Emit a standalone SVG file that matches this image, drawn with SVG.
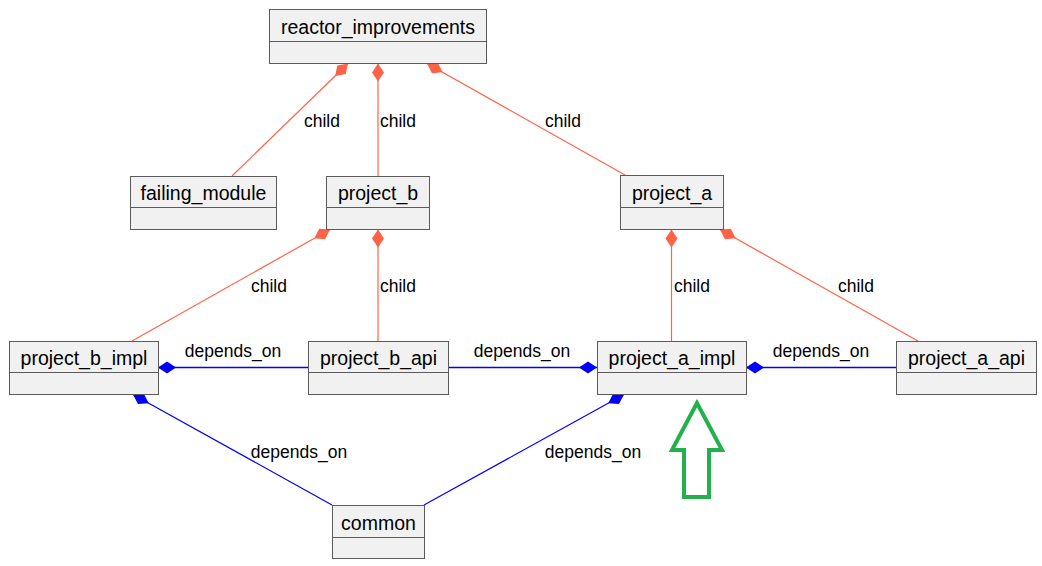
<svg xmlns="http://www.w3.org/2000/svg" width="1042" height="566" viewBox="0 0 1042 566">
<defs>
<style>
.box{fill:#F1F1F1;stroke:#5B5B5B;stroke-width:1}
.sep{stroke:#5B5B5B;stroke-width:1}
.name{font-family:"Liberation Sans",Arial,sans-serif;font-size:19.5px;fill:#000;text-anchor:middle}
.lbl{font-family:"Liberation Sans",Arial,sans-serif;font-size:17.5px;fill:#000;text-anchor:middle}
.child{stroke:#FF6347;stroke-width:1.2;fill:none;marker-start:url(#dOr)}
.dep{stroke:#0000FF;stroke-width:1.2;fill:none;marker-start:url(#dBl)}
.deph{stroke:#0000FF;stroke-width:1.6;fill:none;marker-start:url(#dBl)}
</style>
<marker id="dOr" markerUnits="userSpaceOnUse" markerWidth="22" markerHeight="14" viewBox="-1 -7 22 14" refX="0" refY="0" orient="auto">
<polygon points="0,0 9,-6 18,0 9,6" fill="#FF6347"/>
</marker>
<marker id="dBl" markerUnits="userSpaceOnUse" markerWidth="22" markerHeight="14" viewBox="-1 -7 22 14" refX="0" refY="0" orient="auto">
<polygon points="0,0 9,-6 18,0 9,6" fill="#0000FF"/>
</marker>
</defs>
<rect width="1042" height="566" fill="#FFFFFF"/>
<g id="connectors">
<line class="child" x1="348" y1="63.5" x2="232" y2="176"/>
<line class="child" x1="378" y1="63.5" x2="378" y2="176"/>
<line class="child" x1="427" y1="63.5" x2="625" y2="175"/>
<line class="child" x1="330" y1="229.5" x2="132" y2="341"/>
<line class="child" x1="378" y1="229.5" x2="378" y2="341"/>
<line class="child" x1="671.5" y1="229.5" x2="671.5" y2="341"/>
<line class="child" x1="720" y1="229.5" x2="918" y2="341"/>
<line class="deph" x1="158" y1="367.5" x2="308" y2="367.5"/>
<line class="deph" x1="597" y1="367.5" x2="448" y2="367.5"/>
<line class="deph" x1="746" y1="367.5" x2="896" y2="367.5"/>
<line class="dep" x1="133" y1="394.5" x2="332" y2="505"/>
<line class="dep" x1="624" y1="394.5" x2="424" y2="505"/>
<text class="lbl" x="322" y="127">child</text>
<text class="lbl" x="398" y="127">child</text>
<text class="lbl" x="563" y="127">child</text>
<text class="lbl" x="269" y="292">child</text>
<text class="lbl" x="398" y="292">child</text>
<text class="lbl" x="692" y="292">child</text>
<text class="lbl" x="856" y="292">child</text>
<text class="lbl" x="233" y="357">depends_on</text>
<text class="lbl" x="522" y="357">depends_on</text>
<text class="lbl" x="821" y="357">depends_on</text>
<text class="lbl" x="299" y="458">depends_on</text>
<text class="lbl" x="593" y="458">depends_on</text>
</g>
<g id="reactor_improvements">
<rect class="box" x="269.5" y="9.5" width="217" height="54"/>
<line class="sep" x1="269.5" y1="41.5" x2="486.5" y2="41.5"/>
<text class="name" x="378" y="34">reactor_improvements</text>
</g>
<g id="failing_module">
<rect class="box" x="130.5" y="176.5" width="146" height="53"/>
<line class="sep" x1="130.5" y1="207.5" x2="276.5" y2="207.5"/>
<text class="name" x="203.5" y="199.5">failing_module</text>
</g>
<g id="project_b">
<rect class="box" x="326.5" y="176.5" width="103" height="53"/>
<line class="sep" x1="326.5" y1="207.5" x2="429.5" y2="207.5"/>
<text class="name" x="378" y="199.5">project_b</text>
</g>
<g id="project_a">
<rect class="box" x="620.5" y="175.5" width="103" height="54"/>
<line class="sep" x1="620.5" y1="207.5" x2="723.5" y2="207.5"/>
<text class="name" x="672" y="199.5">project_a</text>
</g>
<g id="project_b_impl">
<rect class="box" x="9.5" y="341.5" width="149" height="53"/>
<line class="sep" x1="9.5" y1="372.5" x2="158.5" y2="372.5"/>
<text class="name" x="84" y="364.5">project_b_impl</text>
</g>
<g id="project_b_api">
<rect class="box" x="308.5" y="341.5" width="140" height="53"/>
<line class="sep" x1="308.5" y1="372.5" x2="448.5" y2="372.5"/>
<text class="name" x="378.5" y="364.5">project_b_api</text>
</g>
<g id="project_a_impl">
<rect class="box" x="597.5" y="341.5" width="149" height="53"/>
<line class="sep" x1="597.5" y1="372.5" x2="746.5" y2="372.5"/>
<text class="name" x="672" y="364.5">project_a_impl</text>
</g>
<g id="project_a_api">
<rect class="box" x="896.5" y="341.5" width="140" height="53"/>
<line class="sep" x1="896.5" y1="372.5" x2="1036.5" y2="372.5"/>
<text class="name" x="966.5" y="364.5">project_a_api</text>
</g>
<g id="common">
<rect class="box" x="332.5" y="505.5" width="92" height="53"/>
<line class="sep" x1="332.5" y1="537.5" x2="424.5" y2="537.5"/>
<text class="name" x="378.5" y="529.5">common</text>
</g>
<g id="green_arrow">
<polygon points="697,403 672,450 684,450 684,497 709,497 709,450 722,450" fill="none" stroke="#22B14C" stroke-width="4" stroke-linejoin="miter"/>
</g>
</svg>
